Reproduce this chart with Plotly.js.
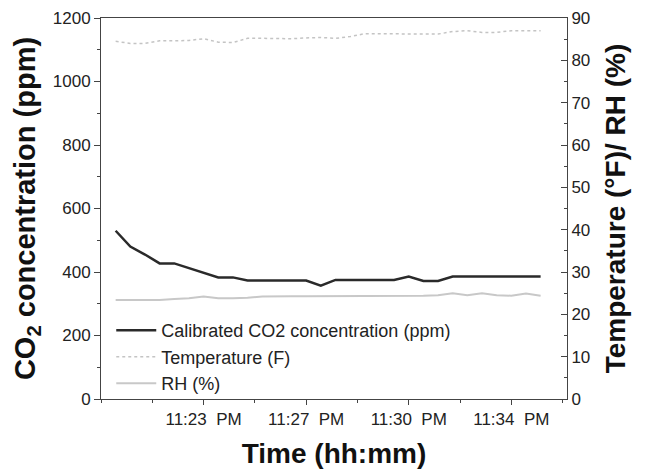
<!DOCTYPE html>
<html>
<head>
<meta charset="utf-8">
<script src="https://cdn.plot.ly/plotly-3.0.1.min.js"></script>
<style>html,body{margin:0;padding:0;background:#fff;}#chart{width:647px;height:475px;}</style>
</head>
<body>
<div id="chart"></div>
<script>
// Sample times (30 s interval)
const times = [
  '2020-01-01 23:20:30','2020-01-01 23:21:00','2020-01-01 23:21:30','2020-01-01 23:22:00','2020-01-01 23:22:30',
  '2020-01-01 23:23:00','2020-01-01 23:23:30','2020-01-01 23:24:00','2020-01-01 23:24:30','2020-01-01 23:25:00',
  '2020-01-01 23:25:30','2020-01-01 23:26:00','2020-01-01 23:26:30','2020-01-01 23:27:00','2020-01-01 23:27:30',
  '2020-01-01 23:28:00','2020-01-01 23:28:30','2020-01-01 23:29:00','2020-01-01 23:29:30','2020-01-01 23:30:00',
  '2020-01-01 23:30:30','2020-01-01 23:31:00','2020-01-01 23:31:30','2020-01-01 23:32:00','2020-01-01 23:32:30',
  '2020-01-01 23:33:00','2020-01-01 23:33:30','2020-01-01 23:34:00','2020-01-01 23:34:30','2020-01-01 23:35:00'
];
const co2 = [530,480,455,427,427,412,396,383,383,373,373,373,373,373,357,375,375,375,375,375,386,372,372,386,386,386,386,386,386,386];
const temperature = [84.5,84.0,84.0,84.6,84.6,84.7,85.1,84.3,84.2,85.2,85.2,85.2,85.1,85.3,85.4,85.2,85.6,86.3,86.3,86.3,86.3,86.2,86.2,86.8,87.0,86.6,86.6,87.0,87.0,87.0];
const rh = [23.4,23.4,23.4,23.4,23.6,23.8,24.2,23.8,23.8,23.9,24.2,24.3,24.3,24.3,24.3,24.4,24.4,24.4,24.4,24.4,24.4,24.4,24.5,25.0,24.5,25.0,24.5,24.4,24.9,24.4];

const xTickVals = ['2020-01-01 23:23:30','2020-01-01 23:27:00','2020-01-01 23:30:30','2020-01-01 23:34:00'];
const xTickText = ['11:23  PM', '11:27  PM', '11:30  PM', '11:34  PM'];
const xMinorVals = ['2020-01-01 23:20:00','2020-01-01 23:21:45','2020-01-01 23:25:15','2020-01-01 23:28:45','2020-01-01 23:32:15','2020-01-01 23:35:45'];
const xRange = ['2020-01-01 23:20:00','2020-01-01 23:35:54'];

const FONT = '"Liberation Sans", Arial, Helvetica, sans-serif';
const AX = '#444';

const traces = [
  {x: times, y: co2, name: 'Calibrated CO2 concentration (ppm)', type: 'scatter', mode: 'lines',
   line: {color: '#2a2a2a', width: 2.5}, yaxis: 'y'},
  {x: times, y: temperature, name: 'Temperature (F)', type: 'scatter', mode: 'lines',
   line: {color: '#c4c4c4', width: 1.5, dash: 'dot'}, yaxis: 'y2'},
  {x: times, y: rh, name: 'RH (%)', type: 'scatter', mode: 'lines',
   line: {color: '#c8c8c8', width: 2}, yaxis: 'y2'}
];

const layout = {
  width: 647, height: 475,
  margin: {l: 101, r: 80, t: 18, b: 76},
  paper_bgcolor: '#fff', plot_bgcolor: '#fff',
  font: {family: FONT, color: '#222', size: 17},
  showlegend: true,
  legend: {x: 0.022, y: 0.228, xanchor: 'left', yanchor: 'top', bgcolor: 'rgba(0,0,0,0)',
           itemwidth: 40, font: {family: FONT, size: 18, color: '#222'}, tracegroupgap: 0},
  xaxis: {
    type: 'date', range: xRange, tickmode: 'array', tickvals: xTickVals, ticktext: xTickText,
    ticks: 'outside', ticklen: 5, tickcolor: AX, tickwidth: 1,
    minor: {tickmode: 'array', tickvals: xMinorVals, ticks: 'outside', ticklen: 3, tickcolor: AX},
    showline: true, linecolor: AX, linewidth: 1, mirror: true,
    showgrid: false, zeroline: false,
    tickfont: {family: FONT, size: 17, color: '#222'},
    title: {text: '<b>Time (hh:mm)</b>', font: {family: FONT, size: 28, color: '#111'}, standoff: 14}
  },
  yaxis: {
    range: [0, 1200], tickmode: 'linear', tick0: 0, dtick: 200,
    ticks: 'outside', ticklen: 6, tickcolor: AX,
    minor: {tickmode: 'linear', tick0: 0, dtick: 100, ticks: 'outside', ticklen: 3, tickcolor: AX},
    showline: true, linecolor: AX, linewidth: 1,
    showgrid: false, zeroline: false,
    tickfont: {family: FONT, size: 17, color: '#222'},
    title: {text: '<b>CO<sub>2</sub> concentration (ppm)</b>', font: {family: FONT, size: 29, color: '#111'}, standoff: 8}
  },
  yaxis2: {
    overlaying: 'y', side: 'right', range: [0, 90], tickmode: 'linear', tick0: 0, dtick: 10,
    ticks: 'inside', ticklen: 6, tickcolor: AX,
    minor: {tickmode: 'linear', tick0: 0, dtick: 5, ticks: 'inside', ticklen: 3, tickcolor: AX},
    showline: true, linecolor: AX, linewidth: 1,
    showgrid: false, zeroline: false,
    tickfont: {family: FONT, size: 17, color: '#222'},
    title: {text: '<b>Temperature (°F)/ RH (%)</b>', font: {family: FONT, size: 28, color: '#111'}, standoff: 16}
  }
};

Plotly.newPlot('chart', traces, layout, {staticPlot: true, displayModeBar: false});
</script>
</body>
</html>
